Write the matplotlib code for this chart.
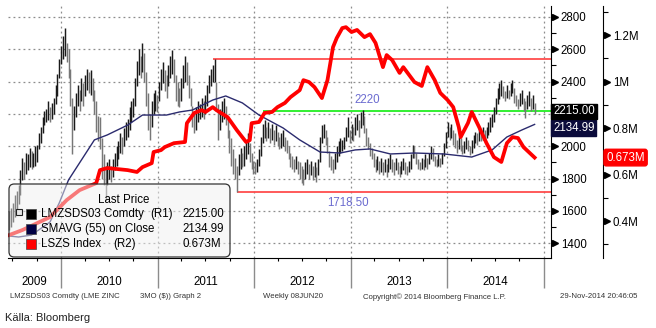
import numpy as np
import matplotlib
matplotlib.use("Agg")
import matplotlib.pyplot as plt
import matplotlib.dates as mdates
import matplotlib.transforms as mtrans
from matplotlib.patches import FancyBboxPatch, Rectangle
from matplotlib.ticker import FuncFormatter

plt.rcParams['font.family'] = ['Liberation Sans', 'DejaVu Sans']

# LME zinc 3M, weekly bars (high / low), first week ending 2009-06-19
start = np.datetime64('2009-06-19')
highs = [
    1600, 1620, 1650, 1700, 1720, 1760, 1850, 1930, 1900, 1960,
    1950, 1990, 1970, 1960, 2000, 2010, 2080, 2120, 2180, 2220,
    2230, 2280, 2240, 2270, 2300, 2380, 2450, 2540, 2620, 2680,
    2730, 2640, 2600, 2480, 2300, 2250, 2330, 2380, 2350, 2420,
    2390, 2440, 2480, 2460, 2470, 2420, 2350, 2280, 2190, 2180,
    2050, 1950, 1880, 1900, 1920, 1880, 1920, 1960, 2000, 2030,
    2080, 2060, 2110, 2150, 2170, 2240, 2280, 2300, 2420, 2530,
    2600, 2560, 2640, 2580, 2460, 2330, 2200, 2280, 2330, 2350,
    2320, 2400, 2480, 2520, 2470, 2440, 2500, 2560, 2595, 2540,
    2440, 2400, 2360, 2420, 2500, 2560, 2520, 2440, 2360, 2250,
    2200, 2240, 2280, 2260, 2300, 2280, 2320, 2380, 2440, 2480,
    2500, 2540, 2400, 2260, 2230, 2280, 2300, 2250, 2180, 2100,
    2050, 1980, 1930, 1880, 1950, 1990, 1960, 2000, 2040, 2080,
    2020, 1960, 1910, 1900, 1920, 1980, 2060, 2140, 2160, 2120,
    2150, 2110, 2140, 2100, 2130, 2090, 2060, 2080, 2100, 2060,
    2040, 2000, 1960, 1940, 1920, 1940, 1910, 1900, 1880, 1860,
    1900, 1920, 1890, 1910, 1880, 1900, 1870, 1920, 2060, 2130,
    2140, 2100, 2060, 1970, 1940, 1920, 1960, 2000, 2030, 2050,
    2040, 2060, 2120, 2180, 2100, 2140, 2120, 2180, 2200, 2160,
    2210, 2225, 2190, 2110, 2060, 2020, 1990, 1960, 1920, 1940,
    1910, 1930, 1900, 1920, 1890, 1930, 1950, 1920, 1900, 1930,
    1900, 1880, 1910, 1930, 1900, 1880, 1910, 1950, 2010, 2000,
    1960, 1920, 1900, 1930, 1920, 1950, 1930, 1960, 2000, 1990,
    1940, 1920, 1950, 1930, 1960, 2020, 2090, 2150, 2120, 2140,
    2100, 2080, 2040, 2060, 2050, 2010, 2030, 2060, 2040, 2000,
    2040, 2070, 2090, 2080, 2110, 2090, 2120, 2100, 2120, 2150,
    2180, 2200, 2240, 2300, 2360, 2390, 2410, 2370, 2340, 2380,
    2350, 2390, 2410, 2360, 2320, 2290, 2330, 2350, 2300, 2280,
    2320, 2340, 2300, 2320, 2270]
lows = [
    1480, 1500, 1530, 1560, 1600, 1640, 1700, 1790, 1800, 1830,
    1850, 1870, 1860, 1870, 1880, 1900, 1980, 2020, 2080, 2130,
    2150, 2160, 2150, 2170, 2200, 2260, 2310, 2420, 2510, 2540,
    2560, 2520, 2420, 2250, 1950, 2100, 2180, 2250, 2220, 2280,
    2250, 2310, 2350, 2330, 2320, 2280, 2200, 2090, 2030, 1980,
    1800, 1760, 1670, 1760, 1800, 1780, 1810, 1850, 1880, 1920,
    1960, 1950, 2000, 2040, 2060, 2100, 2150, 2180, 2250, 2370,
    2440, 2420, 2460, 2400, 2250, 2100, 2040, 2120, 2200, 2220,
    2210, 2280, 2350, 2390, 2340, 2300, 2370, 2420, 2450, 2400,
    2280, 2250, 2240, 2280, 2360, 2400, 2380, 2300, 2250, 2120,
    2080, 2100, 2150, 2170, 2180, 2170, 2200, 2250, 2330, 2370,
    2400, 2400, 2220, 2040, 2100, 2150, 2170, 2130, 2050, 1960,
    1880, 1830, 1800, 1718, 1820, 1860, 1870, 1880, 1920, 1950,
    1900, 1860, 1830, 1830, 1840, 1880, 1940, 2020, 2050, 2030,
    2050, 2020, 2040, 2010, 2030, 2000, 1980, 1990, 2000, 1970,
    1960, 1920, 1870, 1860, 1840, 1860, 1830, 1800, 1770, 1760,
    1800, 1830, 1800, 1820, 1790, 1810, 1780, 1820, 1900, 2020,
    2050, 2010, 1960, 1870, 1850, 1835, 1860, 1900, 1940, 1960,
    1970, 1980, 2030, 2060, 2020, 2040, 2030, 2070, 2100, 2060,
    2110, 2130, 2080, 2000, 1980, 1940, 1920, 1870, 1840, 1850,
    1830, 1840, 1820, 1840, 1810, 1840, 1860, 1840, 1820, 1850,
    1830, 1810, 1830, 1850, 1830, 1820, 1840, 1860, 1930, 1930,
    1890, 1860, 1850, 1860, 1850, 1870, 1860, 1890, 1920, 1910,
    1880, 1870, 1880, 1870, 1890, 1940, 1990, 2060, 2040, 2050,
    2010, 1990, 1960, 1980, 1970, 1950, 1960, 1980, 1970, 1945,
    1960, 1990, 2020, 2010, 2030, 2030, 2040, 2040, 2050, 2070,
    2090, 2120, 2150, 2200, 2260, 2290, 2310, 2300, 2280, 2300,
    2290, 2310, 2330, 2270, 2250, 2230, 2250, 2260, 2220, 2175,
    2230, 2250, 2220, 2230, 2200]

# 55-week moving average (week number, value)
ma_wk = [0, 5, 12, 22, 27, 32, 39, 46, 53, 64, 72, 85, 92, 99, 110, 117, 126,
         135, 148, 157, 168, 179, 187, 195, 206, 219, 235, 250, 261, 269, 277, 284]
ma_val = [1444, 1438, 1450, 1531, 1649, 1791, 1915, 2039, 2070, 2131, 2193, 2193,
          2212, 2224, 2286, 2311, 2268, 2193, 2113, 2039, 1964, 1958, 1977, 1983,
          1952, 1958, 1952, 1933, 1977, 2057, 2100, 2135]

# LME zinc stocks, million tonnes (week number, value)
stock_wk = [0, 7, 22, 31, 38, 47, 49, 53, 64, 69, 72, 77, 78, 82, 84, 89, 95, 96,
            100, 104, 106, 110, 112, 118, 123, 128, 130, 131, 135, 138, 142, 145,
            149, 152, 157, 159, 162, 165, 169, 172, 175, 177, 180, 182, 185, 188,
            192, 195, 198, 202, 204, 207, 211, 213, 219, 223, 226, 230, 233, 237,
            240, 243, 244, 248, 250, 254, 258, 262, 266, 269, 272, 275, 278, 284]
stock_val = [0.340, 0.361, 0.417, 0.490, 0.533, 0.563, 0.619, 0.628, 0.619, 0.611,
             0.632, 0.649, 0.697, 0.705, 0.718, 0.735, 0.740, 0.821, 0.865, 0.877,
             0.869, 0.890, 0.877, 0.847, 0.791, 0.740, 0.748, 0.821, 0.826, 0.865,
             0.869, 0.890, 0.908, 0.933, 0.963, 1.006, 0.998, 0.976, 0.929, 1.006,
             1.148, 1.187, 1.230, 1.234, 1.213, 1.222, 1.191, 1.204, 1.166, 1.062,
             1.114, 1.092, 1.037, 1.062, 0.998, 0.981, 1.062, 1.006, 0.951, 0.920,
             0.890, 0.804, 0.761, 0.822, 0.869, 0.804, 0.735, 0.675, 0.654, 0.735,
             0.761, 0.757, 0.718, 0.673]

last_price, last_ma, last_stock = 2215.00, 2134.99, 0.673
range_high, range_low, level_mid = 2540, 1718.50, 2220
years = [2009, 2010, 2011, 2012, 2013, 2014]


def wk(i):
    return mdates.date2num(start + np.timedelta64(7, 'D') * np.asarray(i))


def fx(x):
    return x / 656


def fy(y):
    return 1 - y / 328


x = wk(np.arange(len(highs)))
hi = np.array(highs, float)
lo = np.array(lows, float)
mid = (hi + lo) / 2
cols = ['#1a1a1a' if k == 0 or mid[k] >= mid[k - 1] else '#777777' for k in range(len(mid))]

xmin = mdates.date2num(np.datetime64('2009-06-14'))
xmax = mdates.date2num(np.datetime64('2015-01-29'))

fig = plt.figure(figsize=(6.56, 3.28), dpi=100)
ax = fig.add_axes([fx(8), fy(258), 543 / 656, 252 / 328])
ax2 = ax.twinx()
ax.set_xlim(xmin, xmax)
ax.set_ylim(1308, 2868)
ax2.set_ylim(0.241, 1.325)

ax.vlines(x, lo, hi, colors=cols, lw=1.05, zorder=3)
ax.plot(wk(ma_wk), ma_val, color='#2b2b6e', lw=1.0, zorder=4)

ax.hlines(range_high, wk(110), xmax, color='#ff4d4d', lw=1.3, zorder=2)
ax.hlines(range_low, wk(123), xmax, color='#ff4d4d', lw=1.3, zorder=2)
ax.hlines(level_mid, wk(137), xmax, color='#22ee22', lw=1.3, zorder=2)
ax.text(wk(186.5), 2286, '2220', color='#6b6bd0', fontsize=8.3, va='center', ha='left')
ax.text(wk(172), 1649, '1718.50', color='#6b6bd0', fontsize=8.3, va='center', ha='left')

# axes frame
for s in ['top', 'left']:
    ax.spines[s].set_visible(False)
ax.spines['bottom'].set_color('black')
ax.spines['right'].set_color('black')

year_starts = [mdates.date2num(np.datetime64(f'{y}-01-01')) for y in range(2010, 2016)]
quarters = [mdates.date2num(np.datetime64(f'{y}-{m:02d}-01'))
            for y in range(2009, 2015) for m in (4, 7, 10)]
quarters = [q for q in quarters if xmin < q < xmax]
ax.set_xticks(year_starts)
ax.set_xticks(quarters, minor=True)
ax.set_xticklabels([])
ax.tick_params(axis='x', which='major', length=21.6, width=1, color='#8c8c8c')
ax.tick_params(axis='x', which='minor', length=2.5, width=0.8, color='black')

# price scale on the right of the plot; the 2200 label sits under the value tags
ax.yaxis.tick_right()
ax.yaxis.set_label_position('right')
ax.set_yticks(range(1400, 2801, 200))
ax.set_yticks(range(1500, 2801, 200), minor=True)
ax.yaxis.set_major_formatter(FuncFormatter(lambda v, p: '' if v == 2200 else f'{v:.0f}'))
ax.tick_params(axis='y', which='both', left=False, right=True, labelleft=False, labelright=True)
ax.tick_params(axis='y', which='major', length=0, pad=7, labelsize=8.3)
ax.tick_params(axis='y', which='minor', length=3.5, width=0.8)
ax.grid(True, which='major', ls=(0, (1.5, 2.5)), color='#8c8c8c', lw=0.9)

tr_y = mtrans.blended_transform_factory(ax.transAxes, ax.transData)
ax.plot([1.008] * 8, list(range(1400, 2801, 200)), ls='none', marker='>', ms=4.5,
        color='black', transform=tr_y, clip_on=False)

tr_x = mtrans.blended_transform_factory(ax.transData, ax.transAxes)
bounds = [xmin] + year_starts
for k, y in enumerate(years):
    a = max(bounds[k], xmin)
    b = min(bounds[k + 1], xmax)
    ax.text((a + b) / 2, -0.095, str(y), transform=tr_x, ha='center', va='center', fontsize=8.3)

# stocks on second axis
ax2.plot(wk(stock_wk), stock_val, color='#ff0000', lw=2.7, solid_joinstyle='round', zorder=3)
for s in ['top', 'left', 'bottom']:
    ax2.spines[s].set_visible(False)
right_pos = (603 - 8) / 543
ax2.spines['right'].set_position(('axes', right_pos))
ax2.spines['right'].set_color('black')
ax2.set_yticks([0.4, 0.6, 0.8, 1.0, 1.2])
ax2.set_yticks([0.3, 0.5, 0.7, 0.9, 1.1, 1.3], minor=True)
ax2.yaxis.set_major_formatter(FuncFormatter(lambda v, p: f'{v:g}M'))
ax2.tick_params(axis='y', which='major', length=0, pad=7, labelsize=8.3)
ax2.tick_params(axis='y', which='minor', length=3.5, width=0.8)
tr_y2 = mtrans.blended_transform_factory(ax2.transAxes, ax2.transData)
ax2.plot([right_pos + 0.008] * 5, [0.4, 0.6, 0.8, 1.0, 1.2], ls='none', marker='>', ms=4.5,
         color='black', transform=tr_y2, clip_on=False)

# last value tags
ma_tag = mtrans.offset_copy(tr_y, fig=fig, x=0, y=-3.5, units='dots')
ax2.text(1.004, last_ma, f'{last_ma:.2f}', transform=ma_tag, color='white', fontsize=8.3,
         va='center', ha='left', zorder=20, clip_on=False,
         bbox=dict(boxstyle='square,pad=0.15', fc='#0b0b3b', ec='#0b0b3b'))
ax2.text(1.004, last_price, f'{last_price:.2f}', transform=tr_y, color='white', fontsize=8.3,
         va='center', ha='left', zorder=21, clip_on=False,
         bbox=dict(boxstyle='square,pad=0.15', fc='black', ec='black'))
ax2.text(right_pos + 0.006, last_stock, f'{last_stock:.3f}M', transform=tr_y2, color='white',
         fontsize=8.3, va='center', ha='left', zorder=20, clip_on=False,
         bbox=dict(boxstyle='round,pad=0.2', fc='#ff0000', ec='#ff0000'))

# legend box
leg = FancyBboxPatch((fx(9), fy(257)), fx(221), 73 / 328,
                     boxstyle='round,pad=0,rounding_size=0.008', mutation_aspect=2,
                     transform=fig.transFigure, fc=(0.94, 0.94, 0.94, 0.5), ec='#333333',
                     lw=0.9, zorder=10, clip_on=False)
ax2.add_artist(leg)
ax2.plot([wk(5.4)], [1593], transform=ax.transData, marker='s', ms=4, mfc='#e8e8e8',
         mec='#222222', mew=0.8, zorder=11, clip_on=False)
ax2.text(fx(124), fy(200), 'Last Price', transform=fig.transFigure, ha='center', va='center',
         fontsize=8.3, zorder=12)
rows = [
    ('black', 'LMZSDS03 Comdty', '(R1)', 150, f'{last_price:.2f}'),
    ('#000044', 'SMAVG (55) on Close', '', 0, f'{last_ma:.2f}'),
    ('#ff0000', 'LSZS Index', '(R2)', 113, f'{last_stock:.3f}M'),
]
for k, (c, name, tag, tag_x, val) in enumerate(rows):
    yc = 214 + 15 * k
    ax2.add_artist(Rectangle((fx(26), fy(yc + 5)), 10 / 656, 10 / 328, transform=fig.transFigure,
                             fc=c, ec='#444444', lw=0.5, zorder=12, clip_on=False))
    ax2.text(fx(41), fy(yc), name, transform=fig.transFigure, va='center', fontsize=8.3, zorder=12)
    if tag:
        ax2.text(fx(tag_x), fy(yc), tag, transform=fig.transFigure, va='center', fontsize=8.3,
                 zorder=12)
    ax2.text(fx(182), fy(yc), val, transform=fig.transFigure, va='center', fontsize=8.3, zorder=12)

# footer
foot = [(10, 'LMZSDS03 Comdty (LME ZINC'), (140, '3MO ($)) Graph 2'), (263, 'Weekly 08JUN20'),
        (363, 'Copyright\u00a9 2014 Bloomberg Finance L.P.'), (560, '29-Nov-2014 20:46:05')]
for xp, s in foot:
    fig.text(fx(xp), fy(297), s, fontsize=5.6, va='center', ha='left', color='#333333')
fig.text(fx(5), fy(318), 'Källa: Bloomberg', fontsize=8, va='center', ha='left', color='#222222')

fig.savefig('out.png', dpi=100)
